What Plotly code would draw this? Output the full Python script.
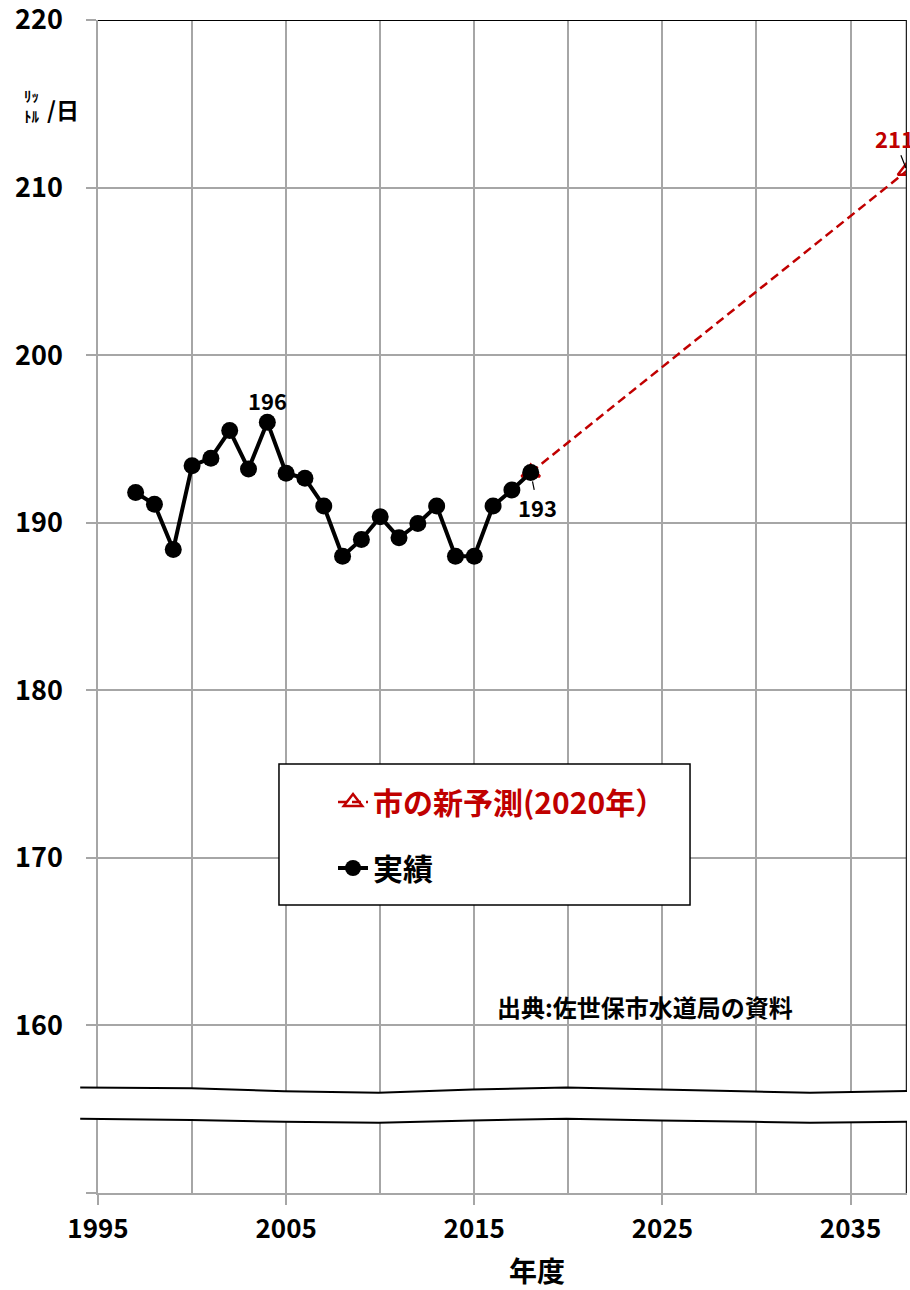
import plotly.graph_objects as go

# ---------------- data ----------------
actual_years = list(range(1997, 2019))
actual_values = [191.8, 191.1, 188.4, 193.4, 193.85, 195.5, 193.2, 196.0, 192.95, 192.65,
                 191.0, 188.0, 189.0, 190.35, 189.1, 189.95, 191.0, 188.0, 188.0, 191.0,
                 191.95, 193.0]
forecast_years = [2018, 2038]
forecast_values = [193, 211]

y_tickvals = [150, 160, 170, 180, 190, 200, 210, 220]
y_ticktext = ["", "160", "170", "180", "190", "200", "210", "220"]
x_tickvals = [1995, 2005, 2015, 2025, 2035]
x_ticktext = ["1995", "2005", "2015", "2025", "2035"]
x_minor_vals = [2000, 2010, 2020, 2030]

# axis break (decorative wavy lines), x in paper units, y in data units
break_x = [-0.022, 0.115, 0.23, 0.347, 0.463, 0.579, 0.695, 0.811, 0.88, 1.0]
break_upper = [156.3, 156.25, 156.07, 155.98, 156.18, 156.3, 156.18, 156.05, 155.98, 156.08]
break_lower = [154.43, 154.35, 154.25, 154.19, 154.33, 154.43, 154.33, 154.25, 154.19, 154.25]

RED = "#C00000"
GRID = "#A6A6A6"
FONT = "Noto Sans CJK JP"

fig = go.Figure()

fig.add_trace(go.Scatter(
    x=forecast_years, y=forecast_values,
    mode="lines+markers",
    name=f"<span style='color:{RED}'>市の新予測(2020年）</span>",
    legendgroup="f",
    line=dict(color=RED, width=2.5, dash="9px,5px"),
    marker=dict(symbol="triangle-up-open", size=16, color=RED, line=dict(color=RED, width=2.5)),
))
fig.add_trace(go.Scatter(
    x=actual_years, y=actual_values,
    mode="lines+markers",
    name="実績",
    legendgroup="a",
    line=dict(color="black", width=4),
    marker=dict(symbol="circle", size=17, color="black"),
))

shapes = []
# top and right borders
shapes.append(dict(type="line", xref="paper", yref="y", x0=0, x1=1, y0=220, y1=220,
                   line=dict(color="black", width=2), layer="above"))
shapes.append(dict(type="line", xref="x", yref="y", x0=2038, x1=2038, y0=150, y1=220,
                   line=dict(color="#222222", width=2.5), layer="above"))

# break band
def path_from(xs, ys):
    return "M" + " L".join(f"{a},{b}" for a, b in zip(xs, ys))

band = path_from(break_x + break_x[::-1], break_upper + break_lower[::-1]) + " Z"
shapes.append(dict(type="path", xref="paper", yref="y", path=band,
                   fillcolor="white", line=dict(width=0), layer="above"))
shapes.append(dict(type="path", xref="paper", yref="y", path=path_from(break_x, break_upper),
                   line=dict(color="black", width=2), layer="above"))
shapes.append(dict(type="path", xref="paper", yref="y", path=path_from(break_x, break_lower),
                   line=dict(color="black", width=2), layer="above"))
# legend box
shapes.append(dict(type="rect", xref="paper", yref="paper", x0=0.2237, x1=0.7318, y0=0.2455, y1=0.3657,
                   fillcolor="white", line=dict(color="black", width=1.5), layer="above"))

annotations = [
    dict(x=2004, y=196, xref="x", yref="y", text="196", showarrow=False, yshift=22,
         font=dict(family=FONT, size=22, color="black", weight="bold")),
    dict(x=2018, y=193, xref="x", yref="y", text="193", showarrow=True, ax=7, ay=35,
         arrowhead=0, arrowwidth=1.2, arrowcolor="black", standoff=9,
         font=dict(family=FONT, size=22, color="black", weight="bold")),
    dict(x=2038, y=211, xref="x", yref="y", text="211", showarrow=True, ax=-13, ay=-33,
         arrowhead=0, arrowwidth=1.2, arrowcolor="black", standoff=3,
         font=dict(family=FONT, size=22, color=RED, weight="bold")),
    dict(x=0.5427, y=-0.0656, xref="paper", yref="paper", text="年度", showarrow=False,
         xanchor="center", yanchor="middle",
         font=dict(family=FONT, size=28, color="black", weight="bold")),
    dict(x=-0.043, y=0.9241, xref="paper", yref="paper", text="/日", showarrow=False,
         xanchor="center", yanchor="middle",
         font=dict(family=FONT, size=23, color="black", weight="bold")),
    dict(x=-0.082, y=0.9275, xref="paper", yref="paper", text="ﾘｯ<br>ﾄﾙ", showarrow=False,
         xanchor="center", yanchor="middle",
         font=dict(family=FONT, size=15, color="black", weight="bold")),
    dict(x=0.676, y=0.1594, xref="paper", yref="paper", text="出典:佐世保市水道局の資料", showarrow=False,
         xanchor="center", yanchor="middle",
         font=dict(family=FONT, size=24, color="black", weight="bold")),
]

fig.update_layout(
    width=910, height=1290,
    margin=dict(l=98, r=3, t=20, b=97, pad=0, autoexpand=False),
    paper_bgcolor="white", plot_bgcolor="white",
    font=dict(family=FONT, color="black"),
    showlegend=True,
    legend=dict(x=0.2905, y=0.3555, xanchor="left", yanchor="top",
                bgcolor="rgba(0,0,0,0)", borderwidth=0,
                font=dict(family=FONT, size=30, color="black", weight="bold"),
                traceorder="grouped", tracegroupgap=24),
    shapes=shapes,
    annotations=annotations,
    xaxis=dict(range=[1995, 2038], tickmode="array", tickvals=x_tickvals, ticktext=x_ticktext,
               showgrid=True, gridcolor=GRID, gridwidth=1.5,
               minor=dict(tickmode="array", tickvals=x_minor_vals, showgrid=True,
                          gridcolor=GRID, gridwidth=1.5, ticks=""),
               showline=True, linecolor=GRID, linewidth=2,
               ticks="outside", ticklen=10, tickcolor=GRID, tickwidth=1.5,
               tickfont=dict(family=FONT, size=26, color="black", weight="bold"),
               ticklabelstandoff=2, ticklabeloverflow="allow", zeroline=False, automargin=False),
    yaxis=dict(range=[150, 220], tickmode="array", tickvals=y_tickvals, ticktext=y_ticktext,
               showgrid=True, gridcolor=GRID, gridwidth=1.5,
               showline=True, linecolor=GRID, linewidth=1.5,
               ticks="outside", ticklen=10, tickcolor=GRID, tickwidth=1.5,
               tickfont=dict(family=FONT, size=27, color="black", weight="bold"),
               ticklabelstandoff=18, ticklabeloverflow="allow", zeroline=False, automargin=False),
)

fig.write_html("out.html")
